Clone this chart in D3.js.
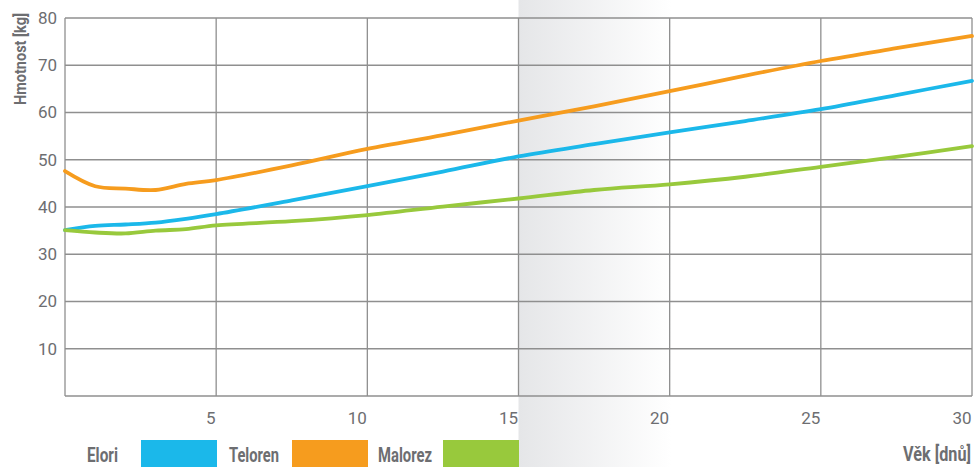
<!DOCTYPE html>
<html>
<head>
<meta charset="utf-8">
<script src="https://cdn.jsdelivr.net/npm/d3@7"></script>
<style>
  html, body { margin: 0; padding: 0; background: #fff; }
  svg { display: block; }
  .tick-label { font-family: Roboto, "Liberation Sans", sans-serif; font-weight: 400; fill: #6d6e71; font-size: 17px; }
  .bold-label { font-family: Roboto, "Liberation Sans", sans-serif; font-weight: bold; fill: #6d6e71; }
</style>
</head>
<body>
<svg id="chart" width="975" height="467"></svg>
<script>
// Age in days at which weights were recorded
const days = [0, 1, 2, 3, 4, 5, 7.5, 10, 12.5, 15, 17.5, 20, 22.5, 25, 27.5, 30];

// Weight (kg) per group
const elori   = [35.1, 36.0, 36.3, 36.7, 37.5, 38.5, 41.4, 44.4, 47.5, 50.7, 53.3, 55.8, 58.2, 60.7, 63.7, 66.7];
const teloren = [47.6, 44.4, 43.9, 43.6, 44.9, 45.7, 48.8, 52.3, 55.2, 58.3, 61.3, 64.5, 67.8, 70.9, 73.6, 76.2];
const malorez = [35.1, 34.6, 34.4, 35.0, 35.3, 36.1, 37.0, 38.3, 40.1, 41.8, 43.6, 44.8, 46.4, 48.5, 50.6, 52.9];

const seriesNames = ["Elori", "Teloren", "Malorez"];
const seriesColors = ["#1bb8ea", "#f69c1e", "#98c93c"];
const xTicks = [5, 10, 15, 20, 25, 30];
const yTicks = [10, 20, 30, 40, 50, 60, 70, 80];
const highlightRange = [15, 20];

const series = [elori, teloren, malorez].map((vals, i) => ({
  name: seriesNames[i],
  color: seriesColors[i],
  points: days.map((d, j) => ({ day: d, kg: vals[j] }))
}));

const svg = d3.select("#chart");
const W = 975, H = 467;
const margin = { left: 65, right: 3, top: 18, bottom: 71 };

const x = d3.scaleLinear().domain([0, 30]).range([margin.left, W - margin.right]);
const y = d3.scaleLinear().domain([0, 80]).range([H - margin.bottom, margin.top]);

// Condensed bold label: draw at the origin, then squeeze horizontally to a target width
function condensedLabel(parent, text, size, width, place, anchor) {
  const t = parent.append("text").attr("class", "bold-label")
    .attr("font-size", size)
    .attr("text-anchor", anchor || "start")
    .text(text);
  const k = width / t.node().getComputedTextLength();
  t.attr("transform", `${place} scale(${k},1)`);
  return t;
}

// Highlighted period: shaded band fading to white
const defs = svg.append("defs");
const grad = defs.append("linearGradient").attr("id", "band").attr("x1", "0").attr("x2", "1").attr("y1", "0").attr("y2", "0");
grad.append("stop").attr("offset", "0").attr("stop-color", "#e5e6e8");
grad.append("stop").attr("offset", "1").attr("stop-color", "#ffffff");
svg.append("rect")
  .attr("x", x(highlightRange[0]))
  .attr("y", 0)
  .attr("width", x(highlightRange[1]) - x(highlightRange[0]) + 2)
  .attr("height", H)
  .attr("fill", "url(#band)");

// Grid
const grid = svg.append("g").attr("stroke", "#8f8f8f").attr("stroke-width", 1.3);
grid.selectAll("line.h").data(yTicks).join("line")
  .attr("x1", x(0)).attr("x2", x(30))
  .attr("y1", d => y(d)).attr("y2", d => y(d));
grid.selectAll("line.v").data(xTicks).join("line")
  .attr("x1", d => x(d)).attr("x2", d => x(d))
  .attr("y1", y(0)).attr("y2", y(80));
// Frame: left axis and baseline
grid.append("line").attr("x1", x(0)).attr("x2", x(0)).attr("y1", y(0)).attr("y2", y(80));
grid.append("line").attr("x1", x(0)).attr("x2", x(30)).attr("y1", y(0)).attr("y2", y(0));

// Axis tick labels
const yAxis = d3.axisLeft(y).tickValues(yTicks).tickSize(0).tickPadding(8);
svg.append("g").attr("transform", `translate(${x(0)},0)`).call(yAxis)
  .call(g => g.select(".domain").remove())
  .selectAll("text").attr("class", "tick-label").attr("font-family", null).attr("font-size", null).attr("fill", null);

const xAxis = d3.axisBottom(x).tickValues(xTicks).tickSize(0).tickPadding(16);
svg.append("g").attr("transform", `translate(0,${y(0)})`).call(xAxis)
  .call(g => g.select(".domain").remove())
  .selectAll("text").attr("class", "tick-label").attr("font-family", null).attr("font-size", null).attr("fill", null)
  .attr("text-anchor", "end").attr("dx", -1);

// Lines
const line = d3.line().x(d => x(d.day)).y(d => y(d.kg)).curve(d3.curveCatmullRom.alpha(0.5));
svg.append("g").selectAll("path").data(series).join("path")
  .attr("d", d => line(d.points))
  .attr("fill", "none")
  .attr("stroke", d => d.color)
  .attr("stroke-width", 3.8)
  .attr("stroke-linejoin", "round")
  .attr("stroke-linecap", "round");

// Axis titles
condensedLabel(svg, "Hmotnost [kg]", 17, 92, "translate(26,59) rotate(-90)", "middle");
condensedLabel(svg, "Věk [dnů]", 20, 68, "translate(971,461)", "end");

// Legend
const legendX = [87, 229, 378];
const legendW = [31, 50, 54];
const swatchX = [141, 292, 443];
const leg = svg.append("g");
series.forEach((s, i) => {
  condensedLabel(leg, s.name, 21, legendW[i], `translate(${legendX[i]},462)`);
  leg.append("rect")
    .attr("x", swatchX[i])
    .attr("y", 440)
    .attr("width", 76)
    .attr("height", 27)
    .attr("fill", s.color);
});
</script>
</body>
</html>
